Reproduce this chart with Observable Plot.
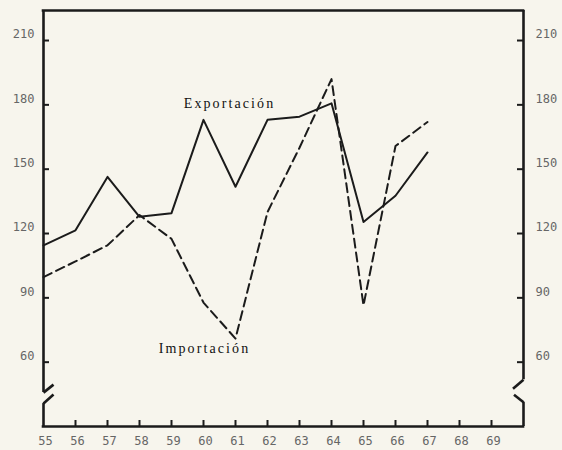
<!DOCTYPE html>
<html><head><meta charset="utf-8">
<script src="https://cdn.jsdelivr.net/npm/d3@7"></script>
<script src="https://cdn.jsdelivr.net/npm/@observablehq/plot@0.6"></script>
<style>
html,body{margin:0;padding:0;background:#f7f5ed;}
</style></head><body><div id="chart"></div>
<script>
// data
const years = [55, 56, 57, 58, 59, 60, 61, 62, 63, 64, 65, 66, 67];
const exportacion = [114.5, 121.5, 146.4, 127.8, 129.5, 173, 141.8, 173, 174.5, 180.7, 125.4, 137.6, 157.8];
const importacion = [99.7, 107, 114.5, 128.6, 117.5, 87.8, 71, 130, 160, 192, 86.5, 160.8, 172];
const seriesNames = ["Exportación", "Importación"];
const xTickValues = [56, 57, 58, 59, 60, 61, 62, 63, 64, 65, 66, 67, 68, 69];
const xLabelValues = [55, 56, 57, 58, 59, 60, 61, 62, 63, 64, 65, 66, 67, 68, 69];
const yTickValues = [60, 90, 120, 150, 180, 210];
const xDomain = [55, 70];
const yDomain = [30, 224];
// axis break (value range of the gap on each side)
const leftBreak = [40.7, 45.8];
const rightBreak = [41.3, 51.8];

const W = 562, H = 450;
const mL = 43, mR = 39, mT = 10, mB = 24;
const pxPerX = (W - mL - mR) / (xDomain[1] - xDomain[0]);
const pxPerY = (H - mT - mB) / (yDomain[1] - yDomain[0]);

const expData = years.map((x, i) => ({x, y: exportacion[i]}));
const impData = years.map((x, i) => ({x, y: importacion[i]}));

const ink = "#1b1b1b";
const labelInk = "#666";
const frameW = 2.6;
const tickLen = 6;

const plot = Plot.plot({
  width: W, height: H,
  marginLeft: mL, marginRight: mR, marginTop: mT, marginBottom: mB,
  style: {background: "#f7f5ed", fontFamily: "'DejaVu Sans Mono', monospace", fontSize: "13px"},
  x: {domain: xDomain, axis: null},
  y: {domain: yDomain, axis: null},
  marks: [
    // frame: top and bottom
    Plot.ruleY([yDomain[1]], {stroke: ink, strokeWidth: frameW, strokeLinecap: "square"}),
    Plot.ruleY([yDomain[0]], {stroke: ink, strokeWidth: frameW, strokeLinecap: "square"}),
    // left side with break
    Plot.ruleX([xDomain[0]], {y1: leftBreak[1], y2: yDomain[1], stroke: ink, strokeWidth: frameW}),
    Plot.ruleX([xDomain[0]], {y1: yDomain[0], y2: leftBreak[0], stroke: ink, strokeWidth: frameW}),
    Plot.link([0], {x1: xDomain[0], y1: leftBreak[1], x2: xDomain[0] + 10 / pxPerX, y2: leftBreak[1] + 8 / pxPerY, stroke: ink, strokeWidth: frameW}),
    Plot.link([0], {x1: xDomain[0] + 10 / pxPerX, y1: leftBreak[0] + 9 / pxPerY, x2: xDomain[0], y2: leftBreak[0], stroke: ink, strokeWidth: frameW}),
    // right side with break
    Plot.ruleX([xDomain[1]], {y1: rightBreak[1], y2: yDomain[1], stroke: ink, strokeWidth: frameW}),
    Plot.ruleX([xDomain[1]], {y1: yDomain[0], y2: rightBreak[0], stroke: ink, strokeWidth: frameW}),
    Plot.link([0], {x1: xDomain[1], y1: rightBreak[1], x2: xDomain[1] - 10.5 / pxPerX, y2: rightBreak[1] - 9 / pxPerY, stroke: ink, strokeWidth: frameW}),
    Plot.link([0], {x1: xDomain[1] - 9.5 / pxPerX, y1: rightBreak[0] + 7.5 / pxPerY, x2: xDomain[1], y2: rightBreak[0], stroke: ink, strokeWidth: frameW}),
    // inward ticks
    Plot.ruleX(xTickValues, {x: d => d, y1: yDomain[0], y2: yDomain[0] + tickLen / pxPerY, stroke: ink, strokeWidth: 2}),
    Plot.ruleY(yTickValues, {y: d => d, x1: xDomain[0], x2: xDomain[0] + tickLen / pxPerX, stroke: ink, strokeWidth: 2}),
    Plot.ruleY(yTickValues, {y: d => d, x1: xDomain[1], x2: xDomain[1] - tickLen / pxPerX, stroke: ink, strokeWidth: 2}),
    // tick labels
    Plot.axisX(xLabelValues, {anchor: "bottom", tickSize: 0, tickPadding: 10, dx: 2, fill: labelInk, color: labelInk, fontSize: 12, label: null}),
    Plot.axisY(yTickValues, {anchor: "left", tickSize: 0, tickPadding: 9, dy: -6, fill: labelInk, color: labelInk, fontSize: 12, label: null}),
    Plot.axisY(yTickValues, {anchor: "right", tickSize: 0, tickPadding: 12, dy: -6, fill: labelInk, color: labelInk, fontSize: 12, label: null}),
    // series
    Plot.line(impData, {x: "x", y: "y", stroke: ink, strokeWidth: 2, strokeDasharray: "9,5"}),
    Plot.line(expData, {x: "x", y: "y", stroke: ink, strokeWidth: 2}),
    // series labels
    Plot.text([expData[5]], {x: "x", y: "y", text: () => seriesNames[0], dx: 26, dy: -16, fill: "#111", fontFamily: "'Liberation Serif', serif", fontSize: 14}),
    Plot.text([impData[6]], {x: "x", y: "y", text: () => seriesNames[1], dx: -31, dy: 10, fill: "#111", fontFamily: "'Liberation Serif', serif", fontSize: 14})
  ]
});
document.getElementById("chart").appendChild(plot);
plot.querySelectorAll("text").forEach(t => {
  if (/Exportación|Importación/.test(t.textContent)) t.style.letterSpacing = "2.1px";
});
</script></body></html>
